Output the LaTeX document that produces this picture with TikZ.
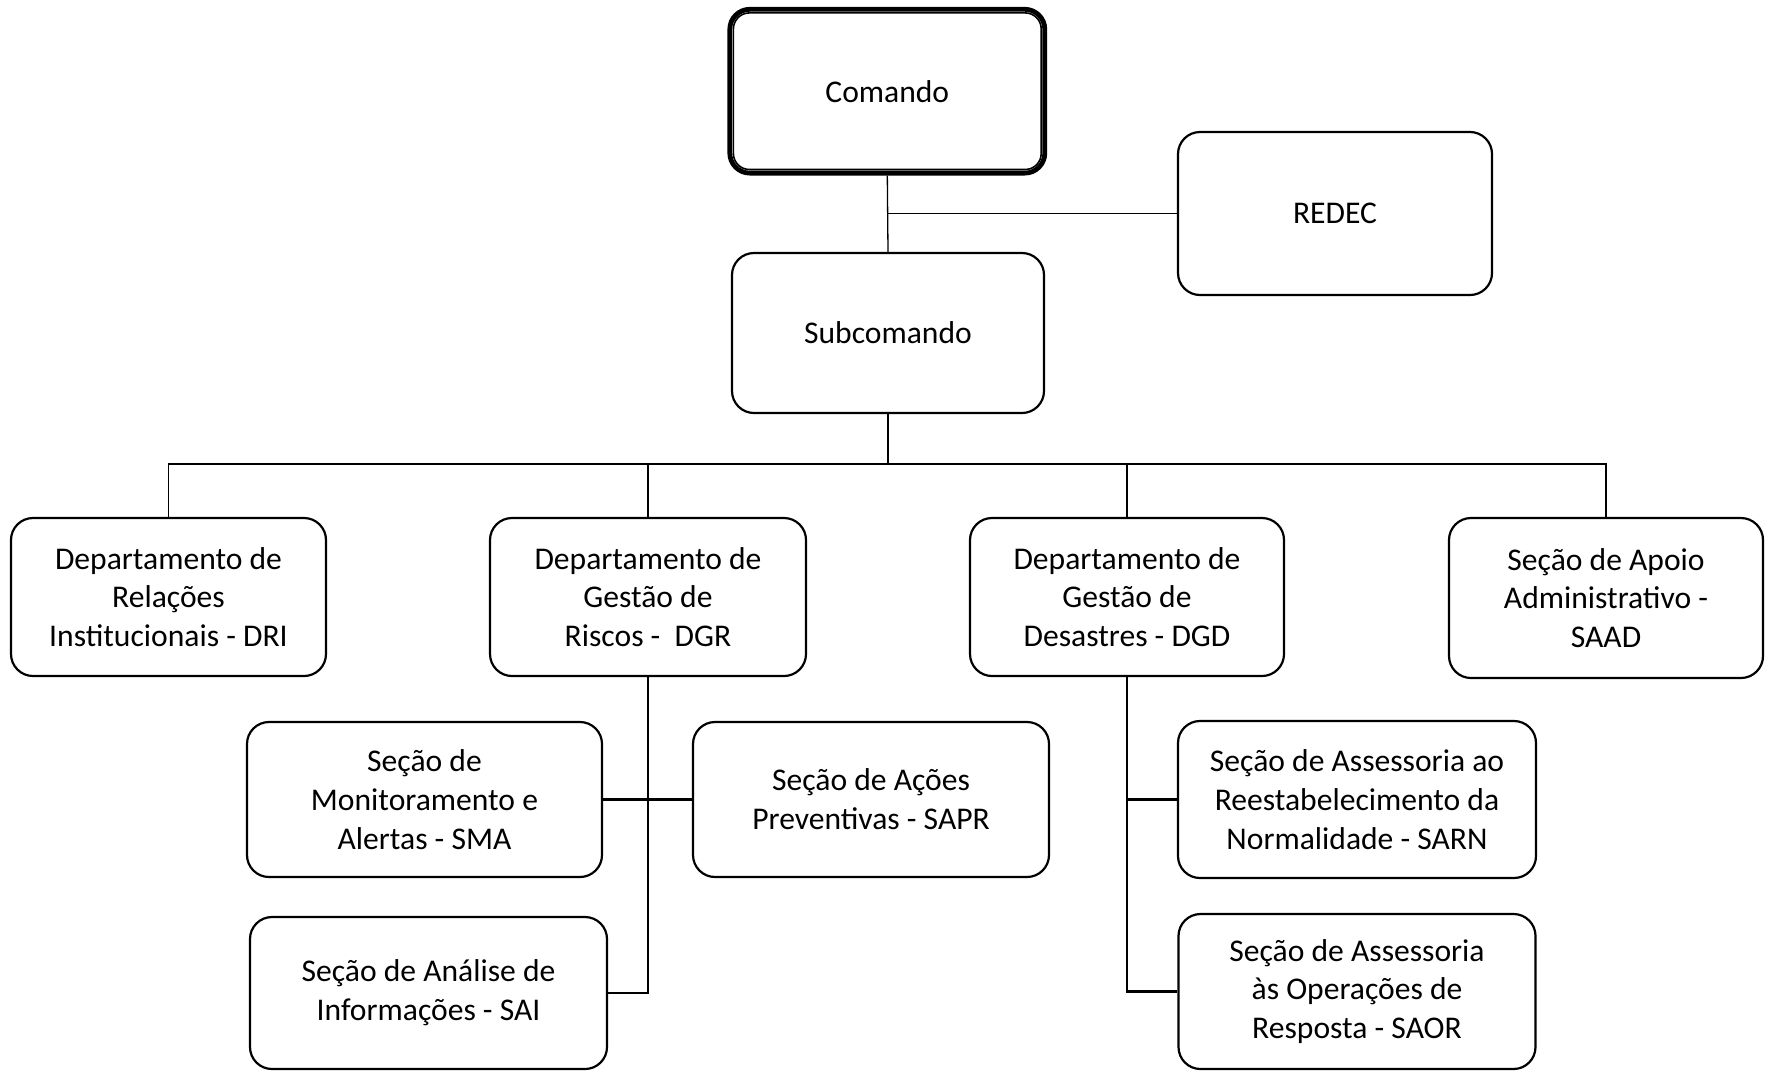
\documentclass[tikz,border=0pt]{standalone}
\usepackage{fontspec}
\setmainfont{Carlito}
\begin{document}
\begin{tikzpicture}[x=0.5pt,y=-0.5pt,
  box/.style={draw, line width=1.1pt, rounded corners=11pt, align=center, inner sep=0pt,
    font=\fontsize{15.8}{19.4}\selectfont},
  thinl/.style={line width=0.65pt},
  conn/.style={line width=1.15pt}]
\useasboundingbox (0,0) rectangle (1765,1071);
% Comando (double border)
\node[box, line width=2.4pt, rounded corners=10pt, minimum width=157.5pt, minimum height=81.9pt] (com) at (887.3,91.2) {Comando};
\draw[line width=0.8pt, rounded corners=8pt] ([shift={(3pt,-3pt)}]com.north west) rectangle ([shift={(-3pt,3pt)}]com.south east);
\node[box, minimum width=157pt, minimum height=81.5pt] (redec) at (1335,213.5) {REDEC};
\node[box, minimum width=156pt, minimum height=80pt] (sub) at (888,333) {Subcomando};
% second row
\node[box, minimum width=157.5pt, minimum height=79pt] (dri) at (168.5,597) {Departamento de\\Relações\\Institucionais - DRI};
\node[box, minimum width=158pt, minimum height=79pt] (dgr) at (648,597) {Departamento de\\Gestão de\\Riscos -\ \ DGR};
\node[box, minimum width=157pt, minimum height=79pt] (dgd) at (1127,597) {Departamento de\\Gestão de\\Desastres - DGD};
\node[box, minimum width=157pt, minimum height=80pt] (saad) at (1606,598) {Seção de Apoio\\Administrativo -\\SAAD};
% third level
\node[box, minimum width=177.5pt, minimum height=77.5pt] (sma) at (424.5,799.5) {Seção de\\Monitoramento e\\Alertas - SMA};
\node[box, minimum width=178pt, minimum height=77.5pt] (sapr) at (871,799.5) {Seção de Ações\\Preventivas - SAPR};
\node[box, minimum width=178.5pt, minimum height=76pt] (sai) at (428.5,993) {Seção de Análise de\\Informações - SAI};
\node[box, minimum width=179pt, minimum height=78.5pt] (sarn) at (1357,799.5) {Seção de Assessoria ao\\Reestabelecimento da\\Normalidade - SARN};
\node[box, minimum width=178.5pt, minimum height=77.5pt] (saor) at (1357,991.5) {Seção de Assessoria\\às Operações de\\Resposta - SAOR};
% connectors
\coordinate (busy) at (0,464);
\draw[thinl] (com.south) -- (sub.north);
\draw[thinl] (redec.west) -- (redec.west -| com.south);
\draw[conn] (sub.south) -- (sub.south |- busy);
\draw[thinl] (dri.north) -- (dri.north |- busy) -- (saad.north |- busy) -- (saad.north);
\draw[thinl] (dgr.north) -- (dgr.north |- busy);
\draw[thinl] (dgd.north) -- (dgd.north |- busy);
\draw[conn] (dgr.south) |- (sai.east);
\draw[conn] (sma.east) -- (sapr.west);
\draw[conn] (dgd.south) |- (saor.west);
\draw[conn] (sarn.west) -- (sarn.west -| dgd.south);
\end{tikzpicture}
\end{document}
